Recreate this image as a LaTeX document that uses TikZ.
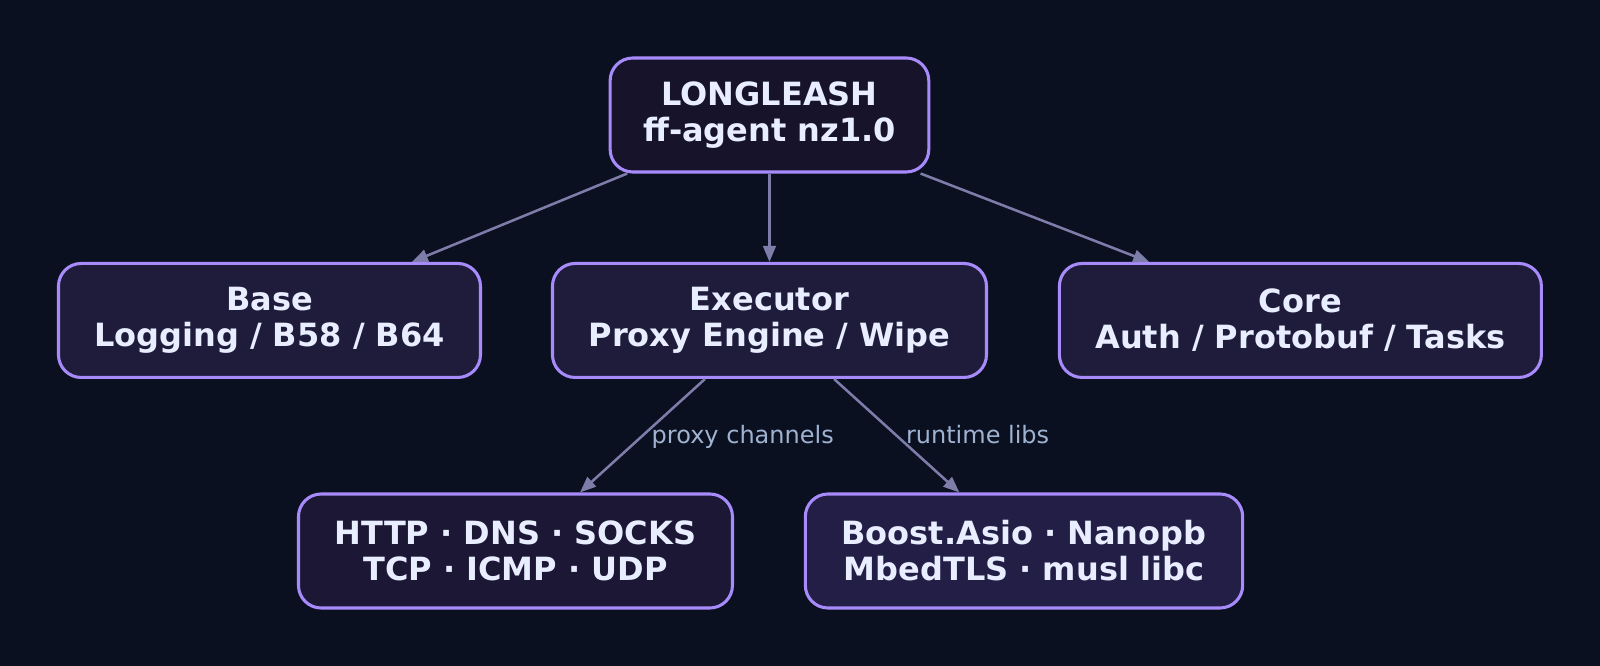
\documentclass[tikz,border=0pt]{standalone}
\usepackage{fontspec}
\setmainfont{DejaVu Sans}
\usepackage{tikz}
\usetikzlibrary{arrows.meta, positioning}

\definecolor{bgcol}{HTML}{0B1021}
\definecolor{rimcol}{HTML}{A78BFA}
\definecolor{topfill}{HTML}{16132B}
\definecolor{midfill}{HTML}{1F1C3B}
\definecolor{chanfill}{HTML}{1B1735}
\definecolor{libfill}{HTML}{231E45}
\definecolor{txtcol}{HTML}{E8EDFF}
\definecolor{edgecol}{HTML}{7E7DAA}
\definecolor{lblcol}{HTML}{9FB3D1}

\tikzset{
  box/.style={draw=rimcol, line width=2.3pt, rounded corners=17pt, align=center,
    text=txtcol, minimum height=85.5pt, inner sep=0pt,
    font=\fontsize{24}{27}\selectfont\bfseries},
  lbl/.style={text=lblcol, font=\fontsize{18}{20}\selectfont, inner sep=1pt, anchor=base west, pos=0.5}
}

\begin{document}
\begin{tikzpicture}[node distance=3cm, on grid, >={Triangle[length=12pt,width=9.5pt]}]
  \fill[bgcol] (0,0) rectangle (1200pt,-499.5pt);
  \node[box, fill=topfill, minimum width=239pt] (agent) at (577.1pt,-86.25pt) {LONGLEASH\\ff-agent nz1.0};
  \node[box, fill=midfill, minimum width=325.5pt] (exec) [below=154.1pt of agent] {Executor\\Proxy Engine / Wipe};
  \node[box, fill=midfill, minimum width=316.5pt] (base) [left=375pt of exec] {Base\\Logging / B58 / B64};
  \node[box, fill=midfill, minimum width=361.5pt] (core) [right=398.2pt of exec] {Core\\Auth / Protobuf / Tasks};
  \node[box, fill=chanfill, minimum width=325.5pt] (chans) [below left=172.9pt and 190.5pt of exec] {HTTP · DNS · SOCKS\\TCP · ICMP · UDP};
  \node[box, fill=libfill, minimum width=328pt] (libs) [below right=172.9pt and 190.9pt of exec] {Boost.Asio · Nanopb\\MbedTLS · musl libc};
  \path[->, draw=edgecol, line width=1.9pt]
    (agent) edge[edgecol] (base)
    (agent) edge[edgecol] (exec)
    (agent) edge[edgecol] (core)
    (exec) edge[edgecol] node[lbl, xshift=5pt, yshift=-5.5pt] {proxy channels} (chans)
    (exec) edge[edgecol] node[lbl, xshift=5pt, yshift=-5.5pt] {runtime libs} (libs);
\end{tikzpicture}
\end{document}
